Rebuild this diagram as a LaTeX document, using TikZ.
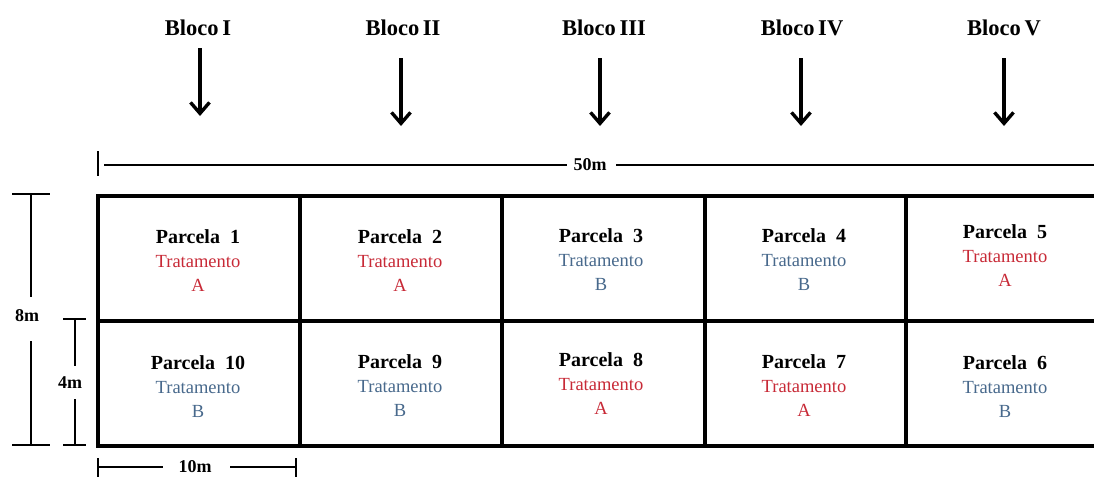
\documentclass[tikz,border=0pt]{standalone}
\usepackage{fontspec}
\setmainfont{Liberation Serif}
\usetikzlibrary{arrows.meta}
\definecolor{tred}{RGB}{200,42,55}
\definecolor{tblue}{RGB}{72,105,140}
\tikzset{
  gridline/.style={line width=3.4pt},
  dimline/.style={line width=2.3pt},
  blockarrow/.style={line width=3.2pt,-{Straight Barb[length=11pt,width=19pt,line width=3.4pt]}},
  blocklabel/.style={font=\fontsize{22.5}{26}\selectfont\bfseries,inner sep=1pt},
  dimlabel/.style={font=\fontsize{18}{20}\selectfont\bfseries,inner sep=1pt},
  cell/.style={align=center,inner sep=0pt,font=\fontsize{18.5}{24}\selectfont},
}
\newcommand{\plot}[3]{{\bfseries\fontsize{20}{24}\selectfont Parcela\ \ #1}\\{\color{#2}Tratamento}\\{\color{#2}#3}}
\begin{document}
\begin{tikzpicture}[x=1pt,y=-1pt]
\useasboundingbox[fill=white] (0,0) rectangle (1094,477);
% block labels and arrows
\node[blocklabel] (b1) at (198,28) {Bloco\,I};
\node[blocklabel] (b2) at (403,28) {Bloco\,II};
\node[blocklabel] (b3) at (604,28) {Bloco\,III};
\node[blocklabel] (b4) at (802,28) {Bloco\,IV};
\node[blocklabel] (b5) at (1004,28) {Bloco\,V};
\coordinate (a1s) at (200,48);  \coordinate (a1e) at (200,116);
\coordinate (a2s) at (401,58);  \coordinate (a2e) at (401,126);
\coordinate (a3s) at (600,58);  \coordinate (a3e) at (600,126);
\coordinate (a4s) at (801,58);  \coordinate (a4e) at (801,126);
\coordinate (a5s) at (1004,58); \coordinate (a5e) at (1004,126);
\foreach \i in {1,...,5} {\draw[blockarrow] (a\i s) -- (a\i e);}
% 50m dimension
\node[dimlabel] (d50) at (590,165) {50m};
\coordinate (t50a) at (98,151); \coordinate (t50b) at (98,176);
\coordinate (l50a) at (104,165); \coordinate (l50b) at (567,165);
\coordinate (l50c) at (616,165); \coordinate (l50d) at (1094,165);
\draw[dimline] (t50a) -- (t50b);
\draw[dimline] (l50a) -- (l50b);
\draw[dimline] (l50c) -- (l50d);
% grid
\draw[gridline] (98,196) -- (1094,196);
\draw[gridline] (98,321) -- (1094,321);
\draw[gridline] (96.3,446) -- (1094,446);
\foreach \x in {98,300,502,705,906} {\draw[gridline] (\x,194.3) -- (\x,447.7);}
% cells
\node[cell] (p1) at (198,261) {\plot{1}{tred}{A}};
\node[cell] (p2) at (400,261) {\plot{2}{tred}{A}};
\node[cell] (p3) at (601,260) {\plot{3}{tblue}{B}};
\node[cell] (p4) at (804,260) {\plot{4}{tblue}{B}};
\node[cell] (p5) at (1005,256) {\plot{5}{tred}{A}};
\node[cell] (p10) at (198,387) {\plot{10}{tblue}{B}};
\node[cell] (p9) at (400,386) {\plot{9}{tblue}{B}};
\node[cell] (p8) at (601,384) {\plot{8}{tred}{A}};
\node[cell] (p7) at (804,386) {\plot{7}{tred}{A}};
\node[cell] (p6) at (1005,387) {\plot{6}{tblue}{B}};
% 8m dimension
\node[dimlabel] (d8) at (27,316) {8m};
\draw[dimline] (12,194) -- (50,194);
\draw[dimline] (12,445) -- (50,445);
\draw[dimline] (31,194) -- (31,297);
\draw[dimline] (31,341) -- (31,445);
% 4m dimension
\node[dimlabel] (d4) at (70,383) {4m};
\draw[dimline] (63,319) -- (86,319);
\draw[dimline] (63,445) -- (86,445);
\draw[dimline] (75,319) -- (75,366);
\draw[dimline] (75,399) -- (75,445);
% 10m dimension
\node[dimlabel] (d10) at (195,467) {10m};
\draw[dimline] (98,458) -- (98,477);
\draw[dimline] (296,458) -- (296,477);
\draw[dimline] (98,467) -- (163,467);
\draw[dimline] (230,467) -- (296,467);
\end{tikzpicture}
\end{document}
